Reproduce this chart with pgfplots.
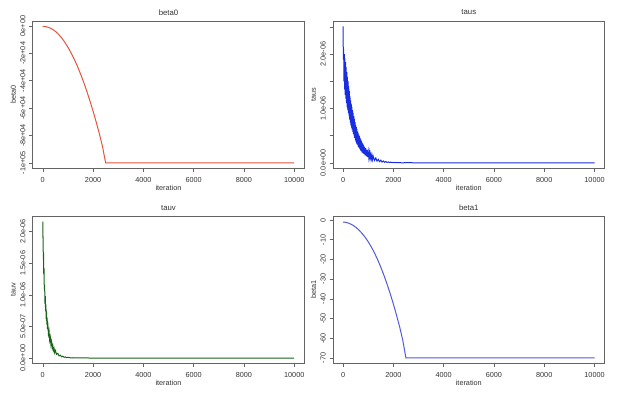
\documentclass[border=0pt]{standalone}
\usepackage{fontspec}
\setmainfont{Liberation Sans}
\usepackage{pgfplots}
\pgfplotsset{compat=1.18}
\definecolor{rtext}{RGB}{50,50,50}
\definecolor{rbox}{RGB}{100,100,100}
\definecolor{cbeta0}{RGB}{226,84,64}
\definecolor{ctaus}{RGB}{25,45,225}
\definecolor{ctauv}{RGB}{25,100,25}
\definecolor{cbeta1}{RGB}{80,90,220}
\pgfplotsset{rstyle/.style={
  scale only axis, width=271.6bp, height=147.4bp,
  axis line style={rbox, line width=0.6bp},
  tick align=outside, tick style={rbox, line width=0.5bp}, major tick length=3.5bp,
  xtick pos=left, ytick pos=left,
  xmin=-400, xmax=10400,
  xtick={0,2000,4000,6000,8000,10000},
  xticklabels={0,2000,4000,6000,8000,10000},
  scaled ticks=false,
  ticklabel style={font=\fontsize{7.3}{8}\selectfont, text=rtext, inner sep=0pt},
  xticklabel style={anchor=north},
  yticklabel style={rotate=90, anchor=south},
  xticklabel shift=5.5bp, yticklabel shift=3.5bp,
  xlabel={iteration},
  label style={font=\fontsize{7.3}{8}\selectfont, text=rtext},
  xlabel style={at={(axis description cs:0.5,-0.1316)}, anchor=center},
  ylabel style={at={(axis description cs:-0.0714,0.5)}, anchor=center},
  every axis title shift=0pt,
  title style={font=\fontsize{7.8}{9}\selectfont, text=rtext, at={(axis description cs:0.5,1.057)}, anchor=center},
  clip=true,
}}
\begin{document}
\begin{tikzpicture}
\path[use as bounding box] (0,0) rectangle (620bp,397bp);
% beta0
\begin{axis}[rstyle, at={(32.7bp,228.7bp)}, anchor=south west,
  title={beta0}, ylabel={beta0},
  ymin=-104000, ymax=3700,
  ytick={0,-20000,-40000,-60000,-80000,-100000},
  yticklabels={0e+00,-2e+04,-4e+04,-6e+04,-8e+04,-1e+05}]
\addplot[cbeta0, line width=1bp] coordinates {
 (0,-300) (125,-500) (250,-1200) (375,-2300) (500,-3900) (625,-6000) (750,-8700)
 (875,-11800) (1000,-15500) (1125,-19600) (1250,-24200) (1375,-29300) (1500,-34900)
 (1625,-41000) (1750,-47600) (1875,-54700) (2000,-62200) (2125,-70200) (2250,-78700)
 (2375,-88000) (2500,-100000) (10000,-100000)};
\end{axis}
% taus
\begin{axis}[rstyle, at={(333bp,228.7bp)}, anchor=south west,
  title={taus}, ylabel={taus},
  ymin=-0.1, ymax=2.61,
  ytick={0,0.5,1,1.5,2,2.5},
  yticklabels={0.0e+00,,1.0e-06,,2.0e-06,}]
\addplot[ctaus, line width=1bp] table {
0 2.51
12 1.90
25 2.10
37 1.50
50 2.00
62 1.35
75 1.92
87 1.25
100 1.85
112 1.18
125 1.76
137 1.10
150 1.67
162 1.03
175 1.58
187 0.97
200 1.50
212 0.92
225 1.41
237 0.86
250 1.32
262 0.80
275 1.23
287 0.74
300 1.15
312 0.69
325 1.09
337 0.65
350 1.03
362 0.61
375 0.97
387 0.57
400 0.92
412 0.53
425 0.86
437 0.50
450 0.81
462 0.46
475 0.75
487 0.42
500 0.70
512 0.39
525 0.66
537 0.36
550 0.62
562 0.34
575 0.58
587 0.32
600 0.55
612 0.29
625 0.52
637 0.28
650 0.49
662 0.26
675 0.46
687 0.24
700 0.43
712 0.22
725 0.41
737 0.21
750 0.38
762 0.19
775 0.36
787 0.18
800 0.34
825 0.16
850 0.30
875 0.14
900 0.27
925 0.12
950 0.24
975 0.105
1000 0.21
1025 0.09
1050 0.19
1075 0.08
1100 0.16
1125 0.07
1150 0.14
1175 0.06
1200 0.12
1250 0.045
1300 0.09
1350 0.032
1400 0.065
1450 0.022
1500 0.05
1550 0.015
1600 0.035
1650 0.01
1700 0.025
1750 0.007
1800 0.017
1850 0.005
1900 0.012
1950 0.004
2000 0.008
2100 0.003
2200 0.005
2350 0.001
2500 0.003
3000 0.001
4000 0.0005
10000 0.0
};
\end{axis}
% tauv
\begin{axis}[rstyle, at={(32.7bp,33.5bp)}, anchor=south west,
  title={tauv}, ylabel={tauv},
  ymin=-0.086, ymax=2.246,
  ytick={0,0.5,1,1.5,2},
  yticklabels={0.0e+00,5.0e-07,1.0e-06,1.5e-06,2.0e-06}]
\addplot[ctauv, line width=1bp] table {
0 2.16
8 1.90
15 1.92
22 1.55
30 1.66
40 1.32
50 1.42
62 1.08
75 1.16
87 0.86
100 0.98
112 0.74
125 0.85
137 0.62
150 0.74
162 0.53
175 0.64
187 0.46
200 0.56
225 0.38
250 0.43
275 0.28
300 0.33
325 0.21
350 0.26
375 0.16
400 0.20
425 0.12
450 0.15
475 0.085
500 0.12
550 0.06
600 0.075
650 0.035
700 0.045
750 0.02
800 0.03
850 0.012
900 0.018
950 0.006
1000 0.012
1100 0.003
1200 0.005
1500 0.002
2000 0.0005
10000 0.0
};
\end{axis}
% beta1
\begin{axis}[rstyle, at={(333bp,33.5bp)}, anchor=south west,
  title={beta1}, ylabel={beta1},
  ymin=-72.8, ymax=2.0,
  ytick={0,-10,-20,-30,-40,-50,-60,-70},
  yticklabels={0,-10,-20,-30,-40,-50,-60,-70}]
\addplot[cbeta1, line width=1bp] coordinates {
 (0,-1) (125,-1.2) (250,-1.7) (375,-2.5) (500,-3.6) (625,-5.0) (750,-6.7)
 (875,-8.7) (1000,-11.0) (1125,-13.7) (1250,-16.7) (1375,-20.1) (1500,-23.9)
 (1625,-28.0) (1750,-32.5) (1875,-37.4) (2000,-42.6) (2125,-48.2) (2250,-54.2)
 (2375,-61.0) (2500,-70) (10000,-70)};
\end{axis}
\end{tikzpicture}
\end{document}
